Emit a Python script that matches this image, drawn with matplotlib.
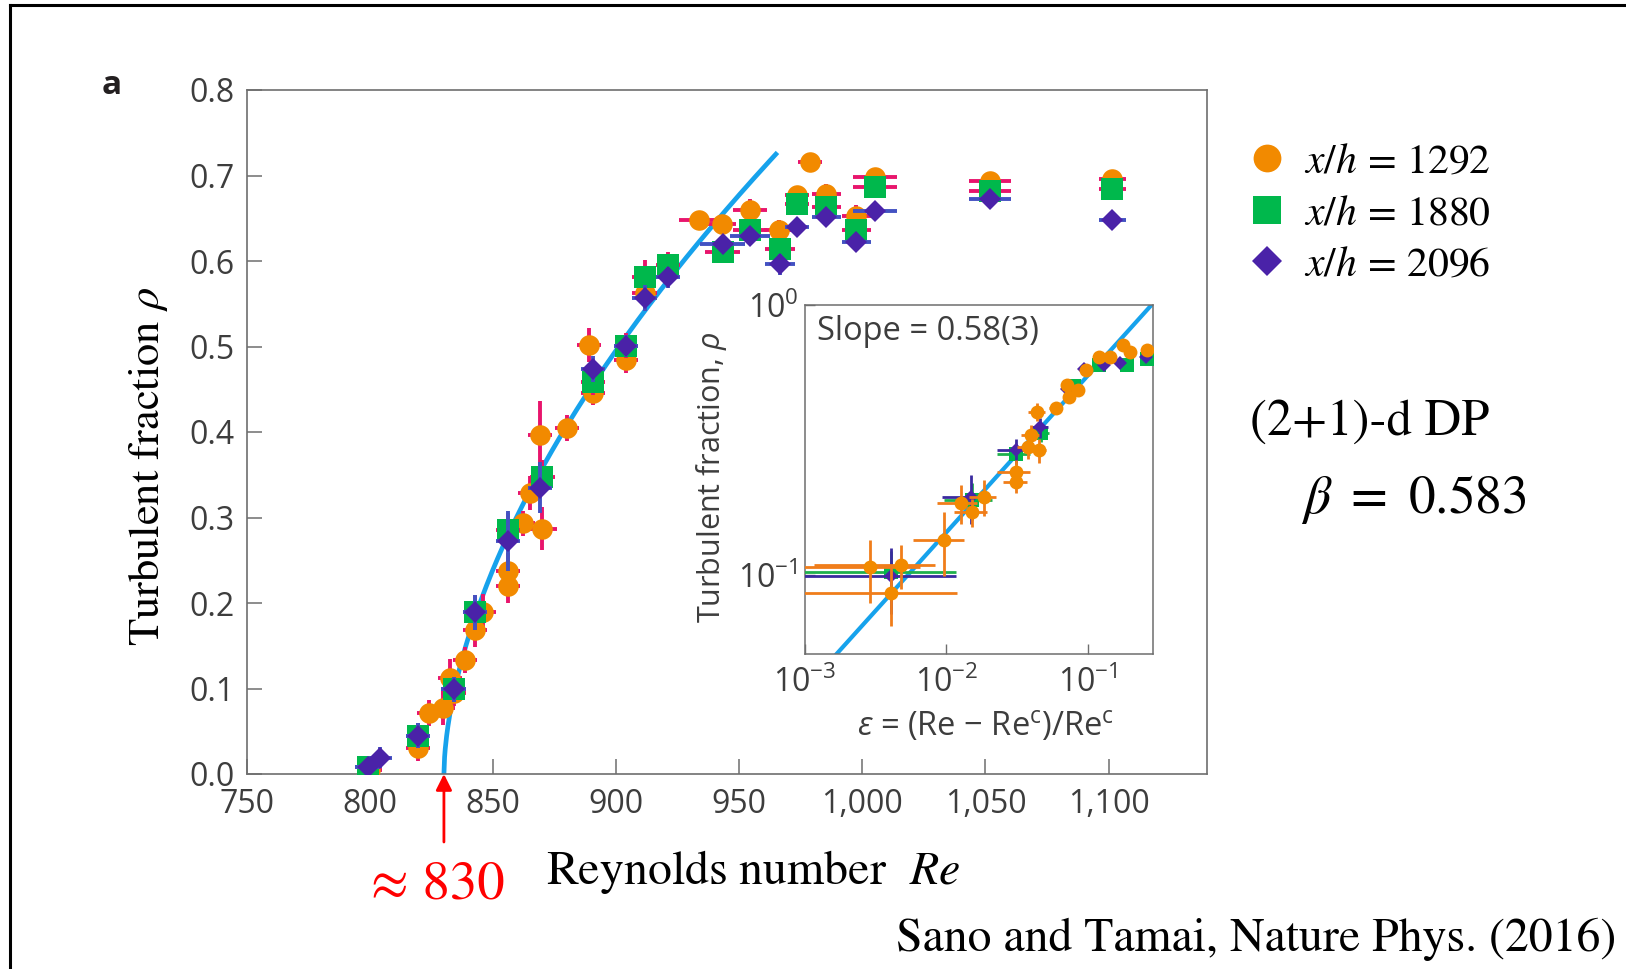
import numpy as np
import matplotlib
matplotlib.use('Agg')
import matplotlib.pyplot as plt
from matplotlib.lines import Line2D
from matplotlib.ticker import NullLocator, FixedLocator

plt.rcParams['font.family'] = ['Open Sans', 'DejaVu Sans']
plt.rcParams['mathtext.fontset'] = 'custom'
plt.rcParams['mathtext.rm'] = 'Open Sans'
plt.rcParams['mathtext.it'] = 'Open Sans:italic'
plt.rcParams['mathtext.bf'] = 'Open Sans:bold'

# ---------------- data (main panel) ----------------
re_o = [800, 819.5, 824, 829.6, 832.5, 834, 838.5, 842.6, 846, 856, 856, 862, 865, 870, 869,
        880, 889, 890.5, 904, 911.6, 933.5, 942.8, 954.3, 966.2, 973.4, 978.7, 985.4, 997.6,
        1005.1, 1051.8, 1101.5]
rho_o = [0.005, 0.030, 0.071, 0.077, 0.112, 0.095, 0.133, 0.168, 0.190, 0.238, 0.220, 0.293,
         0.329, 0.287, 0.396, 0.405, 0.502, 0.446, 0.484, 0.563, 0.648, 0.643, 0.660, 0.636,
         0.677, 0.716, 0.678, 0.653, 0.698, 0.694, 0.696]
xerr_o = [5, 5, 5, 5, 5, 5, 5, 5, 5, 5, 5, 5, 5, 6, 5,
          5, 5, 5, 5, 5, 8, 6, 7, 6, 5, 5, 6, 6, 9, 8.5, 5.5]
yerr_o = [0.012, 0.015, 0.015, 0.02, 0.023, 0.015, 0.015, 0.02, 0.02, 0.02, 0.02, 0.015,
          0.02, 0.025, 0.04, 0.015, 0.02, 0.015, 0.015, 0.02, 0.01, 0.01, 0.012, 0.012,
          0.01, 0.01, 0.012, 0.012, 0.01, 0.01, 0.01]

re_g = [799, 819.5, 834, 842.6, 856, 870, 890.5, 904, 911.6, 921, 943.2, 954.3, 966.5, 973.4,
        985.4, 997.6, 1005.1, 1051.8, 1101.5]
rho_g = [0.008, 0.045, 0.099, 0.189, 0.285, 0.347, 0.458, 0.501, 0.581, 0.595, 0.610, 0.636,
         0.614, 0.667, 0.663, 0.636, 0.686, 0.682, 0.684]
xerr_g = [5, 5, 5, 5, 5, 5, 5, 5, 5, 5, 7, 7, 6, 5, 6, 6, 9, 8.5, 5.5]
yerr_g = [0.012, 0.015, 0.015, 0.02, 0.02, 0.02, 0.015, 0.015, 0.02, 0.015, 0.012, 0.012,
          0.012, 0.012, 0.012, 0.012, 0.012, 0.012, 0.012]

re_d = [799, 804, 819.5, 834, 842.6, 856, 869, 890.5, 904, 911.6, 921, 943.2, 954.3, 966.5,
        973.4, 985.4, 997.6, 1005.1, 1051.8, 1101.5]
rho_d = [0.008, 0.019, 0.045, 0.099, 0.189, 0.273, 0.335, 0.474, 0.501, 0.557, 0.581, 0.620,
         0.629, 0.596, 0.640, 0.651, 0.622, 0.658, 0.672, 0.6485]
xerr_d = [5, 5, 5, 5, 5, 5, 5, 5, 5, 5, 5, 9, 8, 6, 5, 6, 6, 9, 8.5, 5.5]
yerr_d = [0.01, 0.012, 0.015, 0.015, 0.02, 0.035, 0.03, 0.015, 0.012, 0.015, 0.012, 0.01,
          0.01, 0.012, 0.01, 0.01, 0.01, 0.01, 0.01, 0.01]

# fit: rho = A * ((Re - Re_c)/Re_c)^beta
RE_C = 830.0
BETA = 0.58
AMP = 2.08
RE_FIT_END = 965.5

x_ticks = [750, 800, 850, 900, 950, 1000, 1050, 1100]
x_tick_labels = ['750', '800', '850', '900', '950', '1,000', '1,050', '1,100']
y_ticks = [0.0, 0.1, 0.2, 0.3, 0.4, 0.5, 0.6, 0.7, 0.8]
y_tick_labels = ['0.0', '0.1', '0.2', '0.3', '0.4', '0.5', '0.6', '0.7', '0.8']

legend_labels = [r'$x/h\,=\,1292$', r'$x/h\,=\,1880$', r'$x/h\,=\,2096$']

# ---------------- data (inset, log-log) ----------------
eps_o = [0.0029, 0.00476, 0.00405, 0.0096, 0.0126, 0.0153, 0.0184, 0.031, 0.031, 0.0377,
         0.0396, 0.045, 0.044, 0.0595, 0.0735, 0.072, 0.086, 0.097, 0.1196, 0.145, 0.177,
         0.20, 0.265]
irho_o = [0.107, 0.109, 0.086, 0.135, 0.185, 0.171, 0.195, 0.241, 0.221, 0.298, 0.330, 0.290,
          0.402, 0.415, 0.456, 0.506, 0.485, 0.574, 0.642, 0.642, 0.711, 0.670, 0.680]
iex_o = [0.0036, 0.0036, 0.0078, 0.0038, 0.004, 0.004, 0.004, 0.008, 0.006, 0.006, 0.006,
         0.006, 0.006, 0.006, 0.006, 0.006, 0.006, 0.006, 0.006, 0.006, 0.006, 0.006, 0.006]
iey_o = [0.028, 0.02, 0.021, 0.036, 0.03, 0.02, 0.03, 0.025, 0.02, 0.03, 0.03, 0.03, 0.03,
         0.015, 0.02, 0.02, 0.02, 0.02, 0.02, 0.02, 0.02, 0.02, 0.02]

eps_g = [0.00405, 0.0153, 0.031, 0.047, 0.08, 0.12, 0.19, 0.265]
irho_g = [0.103, 0.19, 0.28, 0.335, 0.50, 0.60, 0.60, 0.63]
iex_g = [0.0077, 0.0056, 0.008, 0.006, 0.006, 0.006, 0.006, 0.006]
iey_g = [0.02, 0.03, 0.025, 0.025, 0.015, 0.015, 0.015, 0.015]

eps_d = [0.00405, 0.0149, 0.031, 0.046, 0.072, 0.094, 0.13, 0.17, 0.26]
irho_d = [0.099, 0.195, 0.290, 0.353, 0.49, 0.58, 0.60, 0.61, 0.64]
iex_d = [0.0077, 0.0056, 0.008, 0.006, 0.006, 0.006, 0.006, 0.006, 0.006]
iey_d = [0.027, 0.04, 0.03, 0.03, 0.02, 0.015, 0.015, 0.015, 0.015]

inset_x_ticks = [1e-3, 1e-2, 1e-1]
inset_x_labels = [r'$10^{-3}$', r'$10^{-2}$', r'$10^{-1}$']
inset_y_ticks = [1e-1, 1e0]
inset_y_labels = [r'$10^{-1}$', r'$10^{0}$']

# ---------------- colours ----------------
ORANGE = '#f28a00'
GREEN = '#00b84c'
PURPLE = '#4a22a8'
PINK = '#e8156c'
BLUEBAR = '#4352c2'
FIT = '#16a2ec'
TICKC = '#3d3d3d'
SPINE = '#6e6e6e'
I_ORANGE_BAR = '#f07d1a'
I_GREEN_BAR = '#1fb04c'
I_PURPLE_BAR = '#3a2a9f'

W, H = 1626, 969
fig = plt.figure(figsize=(W / 100, H / 100), dpi=100)


def fx(px):
    return px / W


def fy(py):
    return 1 - py / H


# ---------------- main axes ----------------
ax = fig.add_axes([fx(247), fy(774), fx(1207) - fx(247), fy(90) - fy(774)])
ax.set_xlim(750, 1140)
ax.set_ylim(0, 0.8)

EB = dict(elinewidth=2.8, capsize=4.3, capthick=2.8, mew=0)
re_fit = np.linspace(RE_C, RE_FIT_END, 500)
rho_fit = AMP * ((re_fit - RE_C) / RE_C) ** BETA
ax.plot(re_fit, rho_fit, color=FIT, lw=3.4, zorder=2.5, solid_capstyle='butt')
ax.errorbar(re_o, rho_o, xerr=xerr_o, yerr=yerr_o, fmt='o', ms=14.8, color=ORANGE,
            ecolor=PINK, zorder=3, **EB)
ax.errorbar(re_g, rho_g, xerr=xerr_g, yerr=yerr_g, fmt='s', ms=16, color=GREEN,
            ecolor=PINK, zorder=4, **EB)
ax.errorbar(re_d, rho_d, xerr=xerr_d, yerr=yerr_d, fmt='D', ms=11, color=PURPLE,
            ecolor=BLUEBAR, zorder=5, **EB)

ax.set_xticks(x_ticks)
ax.set_xticklabels(x_tick_labels)
ax.set_yticks(y_ticks)
ax.set_yticklabels(y_tick_labels)
ax.tick_params(direction='in', length=11, width=1.1, color=SPINE, labelsize=23,
               labelcolor=TICKC)
ax.tick_params(axis='y', pad=9)
ax.tick_params(axis='x', pad=10)
for s in ax.spines.values():
    s.set_color(SPINE)
    s.set_linewidth(1.2)

# arrow marking Re_c
ax.annotate('', xy=(RE_C, 0), xycoords='data', xytext=(RE_C, fy(842)),
            textcoords=('data', 'figure fraction'),
            arrowprops=dict(arrowstyle='-|>', color='red', lw=2.0, mutation_scale=24,
                            shrinkA=0, shrinkB=0),
            annotation_clip=False, zorder=10)

# ---------------- inset ----------------
axi = fig.add_axes([fx(805), fy(654), fx(1153) - fx(805), fy(305) - fy(654)])
axi.set_xscale('log')
axi.set_yscale('log')
axi.set_xlim(1e-3, 0.29)
axi.set_ylim(0.051, 1.0)
eps_fit = np.logspace(-3, np.log10(0.29), 300)
axi.plot(eps_fit, AMP * eps_fit ** BETA, color=FIT, lw=3.0, zorder=2)
IEB = dict(elinewidth=2.0, capsize=4.3, capthick=2.0, mew=0)
axi.errorbar(eps_g, irho_g, xerr=iex_g, yerr=iey_g, fmt='s', ms=9.5, color=GREEN,
             ecolor=I_GREEN_BAR, zorder=3, **IEB)
axi.errorbar(eps_d, irho_d, xerr=iex_d, yerr=iey_d, fmt='D', ms=7.5, color=PURPLE,
             ecolor=I_PURPLE_BAR, zorder=4, **IEB)
axi.errorbar(eps_o, irho_o, xerr=iex_o, yerr=iey_o, fmt='o', ms=10, color=ORANGE,
             ecolor=I_ORANGE_BAR, zorder=5, **IEB)
axi.xaxis.set_major_locator(FixedLocator(inset_x_ticks))
axi.yaxis.set_major_locator(FixedLocator(inset_y_ticks))
axi.xaxis.set_minor_locator(NullLocator())
axi.yaxis.set_minor_locator(NullLocator())
axi.set_xticklabels(inset_x_labels)
axi.set_yticklabels(inset_y_labels)
axi.tick_params(direction='in', length=7, width=1.0, color=SPINE, labelsize=23,
                labelcolor=TICKC)
axi.tick_params(axis='y', pad=5)
axi.tick_params(axis='x', pad=9)
for s in axi.spines.values():
    s.set_color(SPINE)
    s.set_linewidth(1.1)
axi.text(0.034, 0.925, 'Slope = 0.58(3)', transform=axi.transAxes, fontsize=23.5,
         color=TICKC, ha='left', va='center')
fig.text(fx(711), fy(477), r'Turbulent fraction, $\rho$', rotation=90, fontsize=22,
         color=TICKC, ha='center', va='center')
fig.text(fx(986), fy(726), r'$\varepsilon$ = (Re $-$ Re$^{\mathrm{c}}$)/Re$^{\mathrm{c}}$',
         fontsize=23.5, color=TICKC, ha='center', va='center')

# ---------------- annotations ----------------
fig.text(fx(112), fy(86), 'a', fontsize=24, fontweight='bold', ha='center', va='center',
         color='#231f20')
fig.text(fx(148), fy(466), r'Turbulent fraction $\rho$', rotation=90, fontsize=32,
         family='STIXGeneral', math_fontfamily='stix', ha='center', va='center')
fig.text(fx(546), fy(872), r'Reynolds number  $Re$', fontsize=34.5, family='STIXGeneral',
         math_fontfamily='stix', ha='left', va='center')
fig.text(fx(371), fy(886), '\u2248 830', fontsize=39.5, family='STIXGeneral', color='red',
         ha='left', va='center')
fig.text(fx(1250), fy(423), '(2+1)-d DP', fontsize=36.5, family='STIXGeneral', ha='left',
         va='center')
fig.text(fx(1301), fy(500), r'$\beta\ =\ 0.583$', fontsize=38.5, family='STIXGeneral',
         math_fontfamily='stix', ha='left', va='center')
fig.text(fx(1616), fy(939), 'Sano and Tamai, Nature Phys. (2016)', fontsize=34.4,
         family='STIXGeneral', ha='right', va='center')

# legend
handles = [Line2D([], [], ls='none', marker='o', ms=20, mew=0, color=ORANGE),
           Line2D([], [], ls='none', marker='s', ms=20.5, mew=0, color=GREEN),
           Line2D([], [], ls='none', marker='D', ms=15, mew=0, color=PURPLE)]
leg = fig.legend(handles, legend_labels, loc='upper left', bbox_to_anchor=(fx(1246), fy(141)),
                 frameon=False, fontsize=30, handlelength=1.0, handletextpad=0.38,
                 labelspacing=0.22, borderpad=0, borderaxespad=0)
for t in leg.get_texts():
    t.set_math_fontfamily('stix')

# page frame (left and top border)
fig.add_artist(Line2D([fx(10), fx(10)], [0, fy(5)], transform=fig.transFigure,
                      color='black', lw=2.2))
fig.add_artist(Line2D([fx(10), 1], [fy(5), fy(5)], transform=fig.transFigure,
                      color='black', lw=2.2))

fig.savefig('out.png', dpi=100)
